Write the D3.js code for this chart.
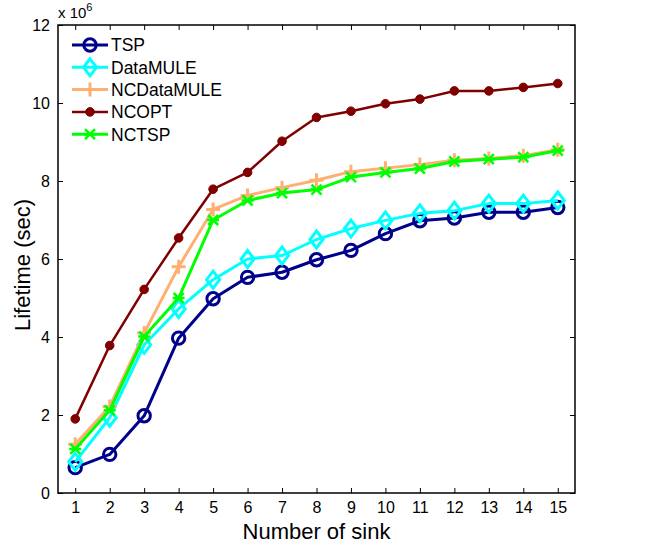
<!DOCTYPE html>
<html>
<head>
<meta charset="utf-8">
<script src="https://cdn.jsdelivr.net/npm/d3@7"></script>
<style>
  body { margin: 0; background: #fff; }
  svg text { font-family: "Liberation Sans", Arial, sans-serif; fill: #000; }
</style>
</head>
<body>
<div class="chart"></div>
<script>
var sinks = [1, 2, 3, 4, 5, 6, 7, 8, 9, 10, 11, 12, 13, 14, 15],
    tsp = [0.65, 0.99, 1.98, 3.97, 4.98, 5.53, 5.66, 5.98, 6.22, 6.65, 6.98, 7.05, 7.2, 7.2, 7.32],
    dataMule = [0.8, 1.93, 3.8, 4.72, 5.47, 6.0, 6.09, 6.5, 6.78, 6.99, 7.17, 7.24, 7.42, 7.42, 7.5],
    ncDataMule = [1.25, 2.22, 4.1, 5.8, 7.27, 7.63, 7.83, 8.02, 8.24, 8.33, 8.42, 8.53, 8.58, 8.65, 8.8],
    ncOpt = [1.9, 3.78, 5.22, 6.54, 7.79, 8.22, 9.02, 9.63, 9.79, 9.98, 10.1, 10.31, 10.31, 10.4, 10.5],
    ncTsp = [1.13, 2.12, 4.01, 5.0, 7.0, 7.5, 7.69, 7.78, 8.1, 8.22, 8.32, 8.5, 8.56, 8.61, 8.78],
    yTicks = [0, 2, 4, 6, 8, 10, 12];

var series = [
  {name: "TSP", values: tsp, color: "#00008c", marker: "circle", width: 3},
  {name: "DataMULE", values: dataMule, color: "#00ffff", marker: "diamond", width: 3},
  {name: "NCDataMULE", values: ncDataMule, color: "#ffb070", marker: "plus", width: 3},
  {name: "NCOPT", values: ncOpt, color: "#800000", marker: "dot", width: 2.5},
  {name: "NCTSP", values: ncTsp, color: "#00ff00", marker: "star", width: 3}
];

var outerWidth = 651, outerHeight = 549,
    margin = {left: 58, top: 25, right: 76, bottom: 56},
    width = outerWidth - margin.left - margin.right,
    height = outerHeight - margin.top - margin.bottom;

var xScale = d3.scaleLinear().domain([0.5, 15.5]).range([0, width]),
    yScale = d3.scaleLinear().domain([0, 12]).range([height, 0]);

var svg = d3.select(".chart").append("svg")
    .attr("width", outerWidth)
    .attr("height", outerHeight)
  .append("g")
    .attr("transform", "translate(" + margin.left + "," + margin.top + ")");

// axes (inward ticks, mirrored on top/right)
var xAxis = d3.axisBottom(xScale).tickValues(sinks).tickSize(-5).tickPadding(9).tickFormat(d3.format("d")),
    yAxis = d3.axisLeft(yScale).tickValues(yTicks).tickSize(-5).tickPadding(8),
    xTop = d3.axisTop(xScale).tickValues(sinks).tickSize(-5).tickFormat(""),
    yRight = d3.axisRight(yScale).tickValues(yTicks).tickSize(-5).tickFormat("");

function styleAxis(g) {
  g.select(".domain").remove();
  g.selectAll("line").attr("stroke", "#000").attr("stroke-width", 1);
  g.selectAll("text").style("font-size", "16px").style("font-family", "Liberation Sans, Arial, sans-serif");
}

svg.append("g").attr("transform", "translate(0," + height + ")").call(xAxis).call(styleAxis);
svg.append("g").call(yAxis).call(styleAxis);
svg.append("g").call(xTop).call(styleAxis);
svg.append("g").attr("transform", "translate(" + width + ",0)").call(yRight).call(styleAxis);

svg.append("rect")
    .attr("width", width).attr("height", height)
    .attr("fill", "none").attr("stroke", "#000").attr("stroke-width", 1.5);

var line = d3.line()
    .x(function(d, i) { return xScale(sinks[i]); })
    .y(function(d) { return yScale(d); });

function drawMarker(g, type, color) {
  if (type == "circle") {
    g.append("circle").attr("r", 6.2).attr("fill", "none").attr("stroke", color).attr("stroke-width", 3);
  } else if (type == "diamond") {
    g.append("path").attr("d", "M0,-8.5L6.5,0L0,8.5L-6.5,0Z").attr("fill", "none").attr("stroke", color).attr("stroke-width", 3);
  } else if (type == "plus") {
    g.append("path").attr("d", "M-7,0H7M0,-7V7").attr("stroke", color).attr("stroke-width", 3);
  } else if (type == "dot") {
    g.append("circle").attr("r", 4.3).attr("fill", color).attr("stroke", color);
  } else if (type == "star") {
    g.append("path").attr("d", "M-5,-5L5,5M-5,5L5,-5M-6,0H6").attr("stroke", color).attr("stroke-width", 2.5);
  }
}

series.forEach(function(s) {
  var g = svg.append("g");
  g.append("path")
      .datum(s.values)
      .attr("fill", "none")
      .attr("stroke", s.color)
      .attr("stroke-width", s.width)
      .attr("stroke-linejoin", "round")
      .attr("d", line);
  g.selectAll(".pt")
      .data(s.values)
    .enter().append("g")
      .attr("transform", function(d, i) { return "translate(" + xScale(sinks[i]) + "," + yScale(d) + ")"; })
      .each(function() { drawMarker(d3.select(this), s.marker, s.color); });
});

// legend
var legend = svg.append("g").attr("transform", "translate(14,20)");
series.forEach(function(s, i) {
  var row = legend.append("g").attr("transform", "translate(0," + (i * 22.3) + ")");
  row.append("line").attr("x1", 0).attr("x2", 36).attr("stroke", s.color).attr("stroke-width", s.width);
  var m = row.append("g").attr("transform", "translate(18,0)");
  drawMarker(m, s.marker, s.color);
  row.append("text").attr("x", 39).attr("dy", "0.36em").style("font-size", "17.5px").text(s.name);
});

// axis labels
svg.append("text")
    .attr("x", width / 2).attr("y", height + 46)
    .attr("text-anchor", "middle")
    .style("font-size", "22px")
    .text("Number of sink");

svg.append("text")
    .attr("transform", "translate(-28," + (height / 2 + 6) + ") rotate(-90)")
    .attr("text-anchor", "middle")
    .style("font-size", "22px")
    .text("Lifetime (sec)");

var exp = svg.append("text").attr("x", 0).attr("y", -7).style("font-size", "15px");
exp.append("tspan").text("x 10");
exp.append("tspan").attr("dy", -7).style("font-size", "11px").text("6");
</script>
</body>
</html>
